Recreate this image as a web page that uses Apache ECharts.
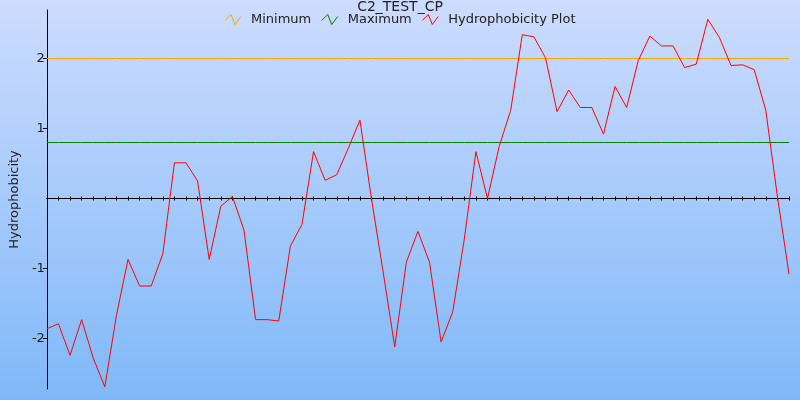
<!DOCTYPE html>
<html>
<head>
<meta charset="utf-8">
<script src="https://cdn.jsdelivr.net/npm/echarts@6/dist/echarts.min.js"></script>
<style>html,body{margin:0;padding:0;}#c{width:800px;height:400px;}</style>
</head>
<body>
<div id="c"></div>
<script>
// Data
const positions = Array.from({length: 65}, (_, i) => String(i + 1));
const hydrophobicity = [
  -1.86, -1.79, -2.24, -1.73, -2.28, -2.69, -1.67, -0.87, -1.25, -1.25,
  -0.79, 0.51, 0.51, 0.25, -0.87, -0.11, 0.03, -0.45, -1.73, -1.73,
  -1.75, -0.68, -0.37, 0.67, 0.26, 0.34, 0.72, 1.12, -0.01, -1.05,
  -2.12, -0.91, -0.47, -0.91, -2.05, -1.62, -0.58, 0.67, 0.0, 0.74,
  1.26, 2.34, 2.31, 2.01, 1.24, 1.55, 1.30, 1.30, 0.92, 1.60,
  1.30, 1.97, 2.32, 2.18, 2.18, 1.87, 1.92, 2.56, 2.30, 1.90,
  1.91, 1.84, 1.26, 0.03, -1.08
];
const minimumLevel = 2.0;
const maximumLevel = 0.8;
const yTickValues = [-2, -1, 1, 2];
const yMin = -2.721, yMax = 2.693;

const FONT = 'DejaVu Sans';
const zig = 'path://M0,6 L6,0 L10,10 L16,2';

const chart = echarts.init(document.getElementById('c'), null, {renderer: 'canvas'});
chart.setOption({
  animation: false,
  backgroundColor: {
    type: 'linear', x: 0, y: 0, x2: 0, y2: 1,
    colorStops: [{offset: 0, color: '#cddcfe'}, {offset: 1, color: '#7fb8f9'}]
  },
  title: {
    text: 'C2_TEST_CP', left: 'center', top: -5,
    textStyle: {fontFamily: FONT, fontSize: 14, fontWeight: 'normal', color: '#222'}
  },
  legend: {
    top: 8, left: 'center', itemWidth: 16, itemHeight: 10, itemGap: 10,
    textStyle: {fontFamily: FONT, fontSize: 13, color: '#222', padding: [0, 0, 0, 5]},
    data: [
      {name: 'Minimum', icon: zig, itemStyle: {color: 'rgba(0,0,0,0)', borderColor: '#ffa500', borderWidth: 1}},
      {name: 'Maximum', icon: zig, itemStyle: {color: 'rgba(0,0,0,0)', borderColor: '#008000', borderWidth: 1}},
      {name: 'Hydrophobicity Plot', icon: zig, itemStyle: {color: 'rgba(0,0,0,0)', borderColor: '#ff0000', borderWidth: 1}}
    ]
  },
  grid: {left: 45, right: 11, top: 10, bottom: 11, containLabel: false},
  xAxis: [
    {
      type: 'category', data: positions, boundaryGap: false, position: 'bottom',
      axisLine: {onZero: true, onZeroAxisIndex: 0, lineStyle: {color: '#000', width: 1}},
      axisTick: {show: true, interval: 0, length: 2, lineStyle: {color: '#000'}},
      axisLabel: {show: false}, splitLine: {show: false}
    },
    {
      type: 'category', data: positions, boundaryGap: false, position: 'top',
      axisLine: {onZero: true, onZeroAxisIndex: 0, lineStyle: {color: '#000', width: 1}},
      axisTick: {show: true, interval: 0, length: 2, lineStyle: {color: '#000'}},
      axisLabel: {show: false}, splitLine: {show: false}
    }
  ],
  yAxis: {
    type: 'value', min: yMin, max: yMax,
    name: 'Hydrophobicity', nameLocation: 'middle', nameGap: 23,
    nameTextStyle: {fontFamily: FONT, fontSize: 13, color: '#222'},
    axisLine: {show: true, onZero: false, lineStyle: {color: '#000', width: 1}},
    axisTick: {show: true, length: 4, customValues: yTickValues, lineStyle: {color: '#000'}},
    axisLabel: {show: true, margin: 2, customValues: yTickValues, fontFamily: FONT, fontSize: 13, color: '#222'},
    splitLine: {show: false}
  },
  series: [
    {
      name: 'Minimum', type: 'line', xAxisIndex: 0, symbol: 'none',
      data: positions.map(() => minimumLevel),
      lineStyle: {color: '#ffa500', width: 1}, itemStyle: {color: '#ffa500'}
    },
    {
      name: 'Maximum', type: 'line', xAxisIndex: 0, symbol: 'none',
      data: positions.map(() => maximumLevel),
      lineStyle: {color: '#008000', width: 1}, itemStyle: {color: '#008000'}
    },
    {
      name: 'Hydrophobicity Plot', type: 'line', xAxisIndex: 0, symbol: 'none',
      data: hydrophobicity,
      lineStyle: {color: '#ff0000', width: 1}, itemStyle: {color: '#ff0000'}
    }
  ]
});
</script>
</body>
</html>
